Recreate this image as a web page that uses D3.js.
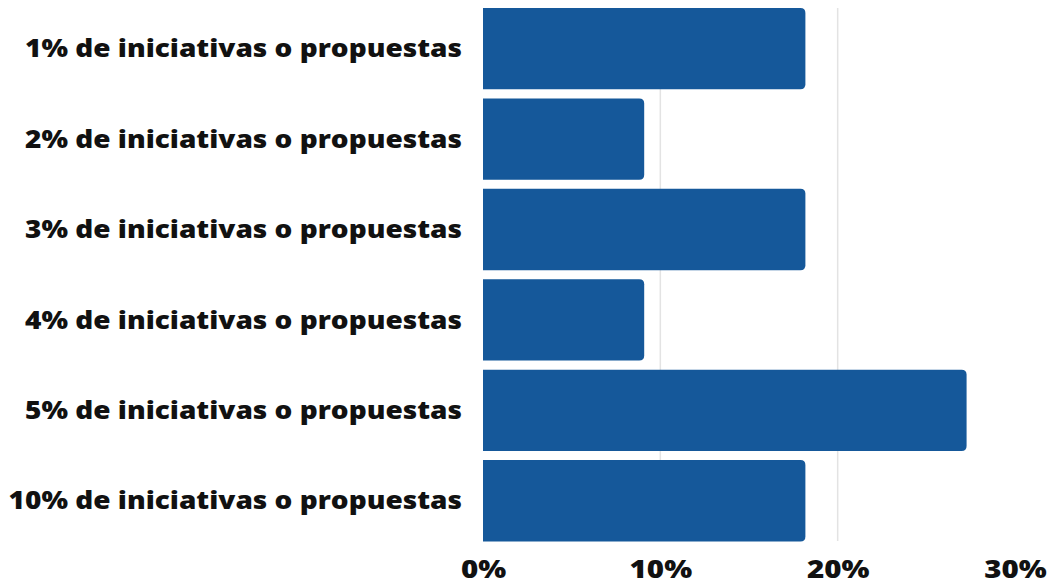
<!DOCTYPE html>
<html><head><meta charset="utf-8">
<script src="https://cdn.jsdelivr.net/npm/d3@7"></script>
<style>html,body{margin:0;padding:0;background:#fff;}svg{display:block;}</style>
</head><body>
<svg id="c" width="1047" height="586"></svg>
<script>
const categories = ["1% de iniciativas o propuestas","2% de iniciativas o propuestas","3% de iniciativas o propuestas","4% de iniciativas o propuestas","5% de iniciativas o propuestas","10% de iniciativas o propuestas"];
const values = [18.18, 9.09, 18.18, 9.09, 27.27, 18.18];
const tickValues = [0, 10, 20, 30];
const tickLabels = ["0%","10%","20%","30%"];

const svg = d3.select("#c");
const x = d3.scaleLinear().domain([0,30]).range([483,1015]);
const y = d3.scaleBand().domain(categories).range([8,541.4]).paddingInner(0.1).paddingOuter(0);
const font = "'Open Sans', sans-serif";

// gridlines
svg.append("g").selectAll("line").data(tickValues.filter(d=>d>0 && d<30)).join("line")
  .attr("x1",d=>x(d)).attr("x2",d=>x(d)).attr("y1",8).attr("y2",541)
  .attr("stroke","#e3e3e3").attr("stroke-width",1.5);

const r = 5;
svg.append("g").selectAll("path").data(categories).join("path")
  .attr("fill","#15589a")
  .attr("d",(c,i)=>{
    const x0=x(0), x1=x(values[i]), y0=y(c), h=y.bandwidth();
    return `M${x0},${y0}H${x1-r}Q${x1},${y0} ${x1},${y0+r}V${y0+h-r}Q${x1},${y0+h} ${x1-r},${y0+h}H${x0}Z`;
  });

// category labels
svg.append("g").selectAll("text").data(categories).join("text")
  .attr("transform",c=>`translate(462,${y(c)+y.bandwidth()/2}) scale(1.12,1)`)
  .attr("dy","0.35em")
  .attr("text-anchor","end").attr("font-family",font).attr("font-weight",800)
  .attr("font-size",25).attr("fill","#111").text(c=>c);

// x axis labels
const xAxis = d3.axisBottom(x).tickValues(tickValues).tickFormat((d,i)=>tickLabels[i]).tickSize(0).tickPadding(0);
const ax = svg.append("g").attr("transform","translate(0,560)").call(xAxis);
ax.select(".domain").remove();
ax.selectAll("text").attr("font-family",font).attr("font-weight",800).attr("font-size",25).attr("fill","#111").attr("dy","0.71em")
  .attr("transform","scale(1.18,1)").attr("x",0);
</script>
</body></html>
